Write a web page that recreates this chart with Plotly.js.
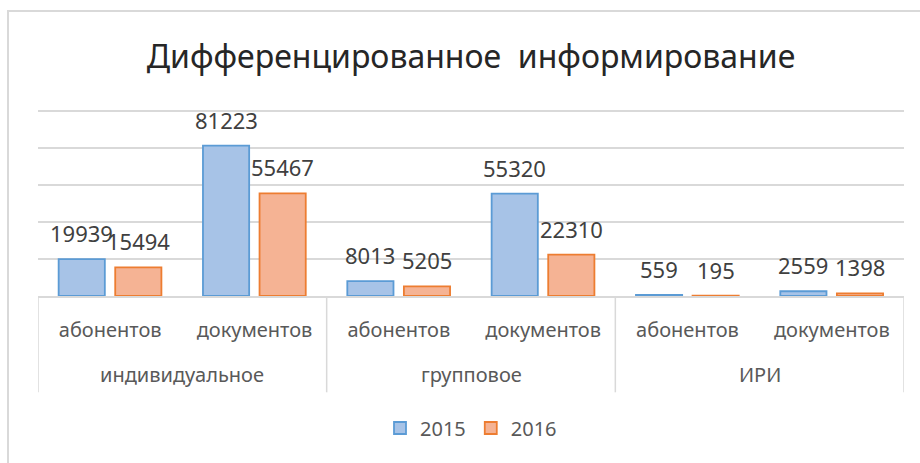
<!DOCTYPE html>
<html>
<head>
<meta charset="utf-8">
<script src="https://cdn.plot.ly/plotly-3.0.1.min.js"></script>
<style>
  html, body { margin: 0; padding: 0; background: #ffffff; }
  #wrap { position: relative; width: 920px; height: 463px; overflow: hidden; }
  #chart { position: absolute; left: 0; top: 0; width: 920px; height: 463px; }
  #frame { position: absolute; left: 7px; top: 10px; width: 940px; height: 480px;
           border-left: 2px solid #d9d9d9; border-top: 2px solid #d9d9d9; pointer-events: none; }
</style>
</head>
<body>
<div id="wrap">
  <div id="chart"></div>
  <div id="frame"></div>
</div>
<script>
// ---- data ----
const groups = ["индивидуальное", "групповое", "ИРИ"];
const subcats = ["абонентов", "документов", "абонентов", "документов", "абонентов", "документов"];
const seriesNames = ["2015", "2016"];
const values2015 = [19939, 81223, 8013, 55320, 559, 2559];
const values2016 = [15494, 55467, 5205, 22310, 195, 1398];
const chartTitle = "Дифференцированное  информирование";

// ---- styles ----
const FONT = "Noto Sans, Open Sans, DejaVu Sans, sans-serif";
const blueFill = "#a7c3e7", blueLine = "#5b9bd5";
const orangeFill = "#f5b394", orangeLine = "#ed7d31";
const gridColor = "#d9d9d9";
const barWidth = 0.32;
const offsets = [-0.357, 0.035];

const xs = subcats.map((_, i) => i);

const traces = [
  { type: "bar", name: seriesNames[0], x: xs, y: values2015,
    width: barWidth, offset: offsets[0],
    marker: { color: blueFill, line: { color: blueLine, width: 1.8 } }, hoverinfo: "none" },
  { type: "bar", name: seriesNames[1], x: xs, y: values2016,
    width: barWidth, offset: offsets[1],
    marker: { color: orangeFill, line: { color: orangeLine, width: 1.8 } }, hoverinfo: "none" }
];

const annotations = [];
[values2015, values2016].forEach((vals, s) => {
  vals.forEach((v, i) => {
    annotations.push({
      x: i + offsets[s] + barWidth / 2, y: v, xref: "x", yref: "y",
      text: String(v), showarrow: false, yanchor: "bottom", xanchor: "center",
      yshift: 9, font: { family: FONT, size: 22, color: "#404040" }
    });
  });
});
groups.forEach((g, k) => {
  annotations.push({
    x: 2 * k + 0.5, y: 0, xref: "x", yref: "paper", yshift: -78,
    text: g, showarrow: false, yanchor: "middle", xanchor: "center",
    font: { family: FONT, size: 20, color: "#595959" }
  });
});

const shapes = [];
for (let k = 0; k <= groups.length; k++) {
  const xv = 2 * k - 0.5;
  shapes.push({ type: "line", xref: "x", yref: "paper", x0: xv, x1: xv, y0: 0, y1: -0.515,
                line: { color: gridColor, width: 1.5 } });
}

const layout = {
  width: 920, height: 463,
  margin: { l: 38, r: 16, t: 109, b: 167 },
  paper_bgcolor: "rgba(0,0,0,0)", plot_bgcolor: "#ffffff",
  title: { text: chartTitle, x: 0.5, xref: "paper", xanchor: "center", y: 0.878, yanchor: "middle",
           font: { family: FONT, size: 32, color: "#262626" } },
  showlegend: true,
  legend: { orientation: "h", x: 0.5, xanchor: "center", y: -0.706, yanchor: "middle",
            font: { family: FONT, size: 20, color: "#595959" } },
  xaxis: { range: [-0.5, 5.5], tickvals: xs, ticktext: subcats, showgrid: false, zeroline: false,
           showline: true, linecolor: gridColor, linewidth: 1.5,
           ticks: "outside", ticklen: 15, tickcolor: "rgba(0,0,0,0)",
           tickfont: { family: FONT, size: 20, color: "#595959" }, fixedrange: true },
  yaxis: { range: [0, 101000], tickvals: [20000, 40000, 60000, 80000, 100000], showticklabels: false, showgrid: true,
           gridcolor: gridColor, gridwidth: 1.5, zeroline: false, showline: false, ticks: "", fixedrange: true },
  annotations: annotations,
  shapes: shapes
};

Plotly.newPlot("chart", traces, layout, { displayModeBar: false, staticPlot: true });
</script>
</body>
</html>
